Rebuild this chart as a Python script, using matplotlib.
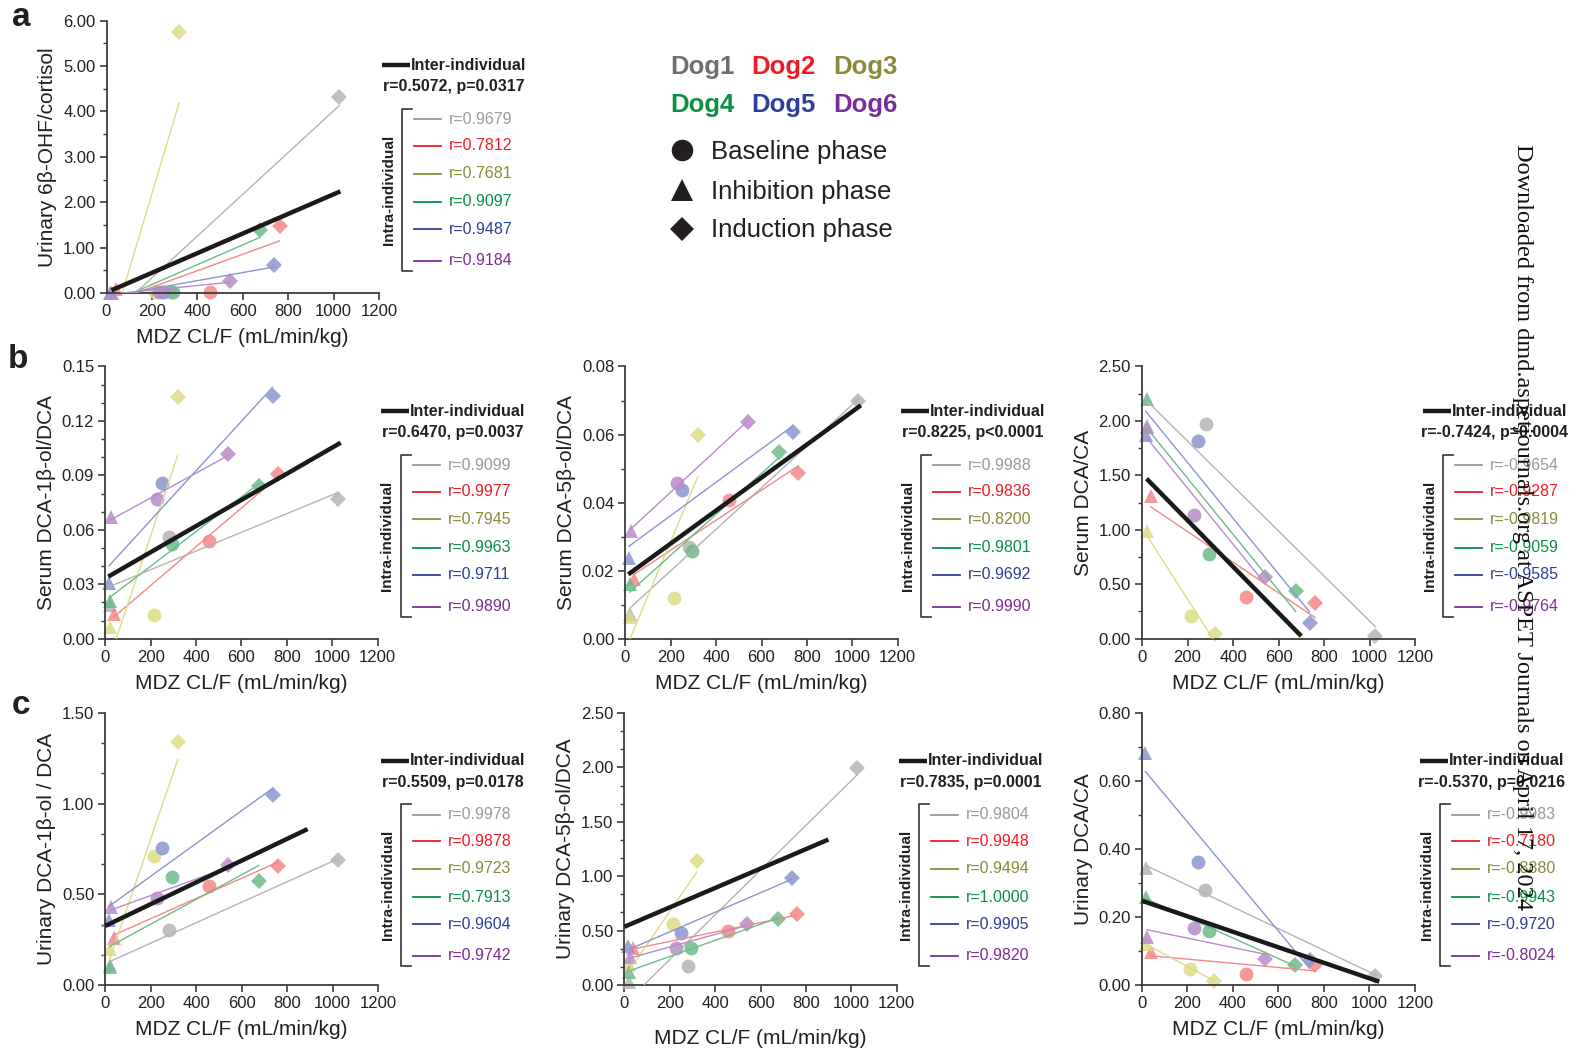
import numpy as np
import matplotlib.pyplot as plt
from matplotlib.lines import Line2D
from matplotlib.ticker import MultipleLocator, FormatStrFormatter

plt.rcParams['font.family'] = ['Liberation Sans', 'DejaVu Sans']

W, H = 1591, 1057

dogs = ['Dog1', 'Dog2', 'Dog3', 'Dog4', 'Dog5', 'Dog6']
dog_colors = ['#6d6e71', '#ed1c24', '#8b8a3a', '#0a8f45', '#2e3f98', '#7b2d96']
legend_colors = ['#9a9a9a', '#ee1c24', '#8b8a3a', '#0a8f45', '#2e3f98', '#7b2d96']
point_colors = ['#b4b4b4', '#f4878a', '#dcdc86', '#6dbb8b', '#8b95cf', '#b98cc8']

# MDZ CL/F (mL/min/kg) per dog
mdz_baseline = [280, 457, 214, 294, 248, 229]
mdz_inhibition = [20, 40, 20, 20, 16, 23]
mdz_induction = [1026, 762, 319, 675, 737, 542]

# a: urinary 6b-OHF/cortisol
a_baseline = [0.02, 0.02, 0.02, 0.02, 0.02, 0.02]
a_inhibition = [0.01, 0.08, 0.01, 0.01, 0.01, 0.01]
a_induction = [4.31, 1.48, 5.74, 1.38, 0.61, 0.26]

# b: serum DCA-1b-ol/DCA
b1_baseline = [0.056, 0.054, 0.013, 0.052, 0.086, 0.077]
b1_inhibition = [0.0185, 0.0134, 0.0066, 0.021, 0.0305, 0.067]
b1_induction = [0.077, 0.091, 0.133, 0.084, 0.134, 0.102]

# b: serum DCA-5b-ol/DCA
b2_baseline = [0.027, 0.0408, 0.0119, 0.0259, 0.0438, 0.0458]
b2_inhibition = [0.0074, 0.0175, 0.0065, 0.0162, 0.0236, 0.0316]
b2_induction = [0.0698, 0.0488, 0.0598, 0.0549, 0.0608, 0.0638]

# b: serum DCA/CA
b3_baseline = [1.97, 0.385, 0.21, 0.78, 1.82, 1.14]
b3_inhibition = [1.95, 1.31, 0.99, 2.20, 1.87, 1.94]
b3_induction = [0.027, 0.33, 0.046, 0.44, 0.14, 0.57]

# c: urinary DCA-1b-ol/DCA
c1_baseline = [0.302, 0.547, 0.709, 0.598, 0.753, 0.48]
c1_inhibition = [0.11, 0.261, 0.197, 0.098, 0.359, 0.429]
c1_induction = [0.69, 0.657, 1.34, 0.576, 1.05, 0.66]

# c: urinary DCA-5b-ol/DCA
c2_baseline = [0.174, 0.499, 0.56, 0.343, 0.48, 0.343]
c2_inhibition = [0.03, 0.337, 0.184, 0.122, 0.358, 0.26]
c2_induction = [1.99, 0.651, 1.14, 0.609, 0.988, 0.557]

# c: urinary DCA/CA
c3_baseline = [0.279, 0.032, 0.048, 0.159, 0.361, 0.168]
c3_inhibition = [0.343, 0.098, 0.12, 0.26, 0.683, 0.142]
c3_induction = [0.027, 0.058, 0.013, 0.06, 0.075, 0.077]

# inter-individual fitted lines (x0, y0, x1, y1)
inter_lines = [(22, 0.06, 1030, 2.24), (13, 0.0342, 1037, 0.108),
               (13, 0.0189, 1038, 0.0686), (20, 1.47, 700, 0.024),
               (0, 0.326, 890, 0.86), (0, 0.535, 899, 1.337),
               (0, 0.248, 1043, 0.0098)]

inter_r = ['r=0.5072, p=0.0317', 'r=0.6470, p=0.0037', 'r=0.8225, p<0.0001',
           'r=-0.7424, p=0.0004', 'r=0.5509, p=0.0178', 'r=0.7835, p=0.0001',
           'r=-0.5370, p=0.0216']
intra_r = [
    ['0.9679', '0.7812', '0.7681', '0.9097', '0.9487', '0.9184'],
    ['0.9099', '0.9977', '0.7945', '0.9963', '0.9711', '0.9890'],
    ['0.9988', '0.9836', '0.8200', '0.9801', '0.9692', '0.9990'],
    ['-0.9654', '-0.9287', '-0.9819', '-0.9059', '-0.9585', '-0.9764'],
    ['0.9978', '0.9878', '0.9723', '0.7913', '0.9604', '0.9742'],
    ['0.9804', '0.9948', '0.9494', '1.0000', '0.9905', '0.9820'],
    ['-0.9983', '-0.7180', '-0.8880', '-0.9943', '-0.9720', '-0.8024'],
]

ylabels = ['Urinary 6β-OHF/cortisol', 'Serum DCA-1β-ol/DCA', 'Serum DCA-5β-ol/DCA',
           'Serum DCA/CA', 'Urinary DCA-1β-ol / DCA', 'Urinary DCA-5β-ol/DCA',
           'Urinary DCA/CA']
ytops = [6.0, 0.15, 0.08, 2.5, 1.5, 2.5, 0.8]
ysteps = [1.0, 0.03, 0.02, 0.5, 0.5, 0.5, 0.2]
yminor = [0.5, 0.01, 0.01, 0.25, 0.5 / 3, 0.5 / 3, 0.1]

panel_data = [(a_baseline, a_inhibition, a_induction),
              (b1_baseline, b1_inhibition, b1_induction),
              (b2_baseline, b2_inhibition, b2_induction),
              (b3_baseline, b3_inhibition, b3_induction),
              (c1_baseline, c1_inhibition, c1_induction),
              (c2_baseline, c2_inhibition, c2_induction),
              (c3_baseline, c3_inhibition, c3_induction)]

# axes boxes in pixels: left, top, right, bottom
boxes = [(106.5, 20.7, 379, 293), (105.3, 366.5, 377.7, 638.7),
         (625.3, 366.5, 897.7, 638.7), (1142, 366.5, 1415, 638.7),
         (105.3, 713, 378, 985), (624.3, 713, 896.7, 985),
         (1141.7, 713, 1415, 985)]
bracket_x = [401.7, 400.5, 920.7, 1442.7, 401, 919, 1440]
legend_dy = [0, 0, 0, 0, 3, 3, 3]
xlabel_off = [-0.13, -0.13, -0.13, -0.13, -0.13, -0.16, -0.13]

fig = plt.figure(figsize=(W / 100, H / 100), dpi=100)


def fx(x):
    return x / W


def fy(y):
    return 1 - y / H


def fig_line(xs, ys, **kw):
    fig.add_artist(Line2D([fx(v) for v in xs], [fy(v) for v in ys],
                          transform=fig.transFigure, **kw))


for i, (x0, y0, x1, y1) in enumerate(boxes):
    ax = fig.add_axes([fx(x0), fy(y1), (x1 - x0) / W, (y1 - y0) / H])
    base, inh, ind = panel_data[i]
    for d in range(6):
        xs = np.array([mdz_inhibition[d], mdz_baseline[d], mdz_induction[d]])
        ys = np.array([inh[d], base[d], ind[d]])
        k, b = np.polyfit(xs, ys, 1)
        xx = np.array([xs.min(), xs.max()])
        ax.plot(xx, k * xx + b, color=point_colors[d], lw=1.0, zorder=3)
        ax.plot(mdz_baseline[d], base[d], 'o', ms=10, color=point_colors[d],
                alpha=0.85, mew=0, clip_on=False, zorder=2)
        ax.plot(mdz_inhibition[d], inh[d], '^', ms=10.5, color=point_colors[d],
                alpha=0.85, mew=0, clip_on=False, zorder=2)
        ax.plot(mdz_induction[d], ind[d], 'D', ms=8, color=point_colors[d],
                alpha=0.85, mew=0, clip_on=False, zorder=2)
    lx0, ly0, lx1, ly1 = inter_lines[i]
    ax.plot([lx0, lx1], [ly0, ly1], color='#1a1a1a', lw=3.2, zorder=4,
            solid_capstyle='butt')

    ax.set_xlim(0, 1200)
    ax.set_ylim(0, ytops[i])
    ax.xaxis.set_major_locator(MultipleLocator(200))
    ax.yaxis.set_major_locator(MultipleLocator(ysteps[i]))
    ax.yaxis.set_minor_locator(MultipleLocator(yminor[i]))
    ax.yaxis.set_major_formatter(FormatStrFormatter('%.2f'))
    for s in ['top', 'right']:
        ax.spines[s].set_visible(False)
    for s in ['left', 'bottom']:
        ax.spines[s].set_color('#3c3c3c')
        ax.spines[s].set_linewidth(1.3)
    ax.tick_params(which='major', length=5, width=1.2, color='#3c3c3c',
                   labelsize=12, labelcolor='#231f20', pad=3)
    ax.tick_params(which='minor', length=3, width=1.0, color='#3c3c3c')
    ax.set_ylabel(ylabels[i], fontsize=15, color='#231f20')
    ax.set_xlabel('MDZ CL/F (mL/min/kg)', fontsize=15, color='#231f20')
    ax.yaxis.set_label_coords(-0.18, 0.5)
    ax.xaxis.set_label_coords(0.5, xlabel_off[i])

    # legend block beside each panel
    bx = bracket_x[i]
    T = y0 + legend_dy[i]
    cx = bx + 52
    fig_line([cx - 72, cx - 44], [T + 44.5, T + 44.5], color='#1a1a1a', lw=3.2,
             solid_capstyle='butt')
    fig.text(fx(cx - 43), fy(T + 44.5), 'Inter-individual', fontsize=11.5,
             fontweight='bold', color='#231f20', ha='left', va='center')
    fig.text(fx(cx), fy(T + 66), inter_r[i], fontsize=11.5, fontweight='bold',
             color='#231f20', ha='center', va='center')
    fig_line([bx + 10, bx, bx, bx + 10], [T + 88, T + 88, T + 250, T + 250],
             color='#333333', lw=1.2)
    fig.text(fx(bx - 13), fy(T + 169), 'Intra-individual', fontsize=11,
             fontweight='bold', color='#231f20', rotation=90, ha='center',
             va='center')
    offs = [98.6, 125.2, 152.8, 181, 208.3, 240]
    for d in range(6):
        yy = T + offs[d]
        fig_line([bx + 12, bx + 39], [yy, yy], color=legend_colors[d], lw=1.3)
        fig.text(fx(bx + 47), fy(yy), 'r=' + intra_r[i][d], fontsize=11.5,
                 color=legend_colors[d], ha='left', va='center')

# panel letters
for letter, (px, py) in zip(['a', 'b', 'c'], [(21, 18), (18, 360), (21, 706)]):
    fig.text(fx(px), fy(py), letter, fontsize=24, fontweight='bold',
             color='#231f20', ha='center', va='center')

# dog colour key
dog_x = [670, 751.7, 833.3]
for d in range(6):
    fig.text(fx(dog_x[d % 3]), fy(66.7 if d < 3 else 105), dogs[d],
             fontsize=18.5, fontweight='bold', color=dog_colors[d],
             ha='left', va='center')

# phase marker key
phases = [('o', 'Baseline phase', 150, 15.5), ('^', 'Inhibition phase', 190, 15.5),
          ('D', 'Induction phase', 229, 12.5)]
for mk, label, yy, ms in phases:
    fig.add_artist(Line2D([fx(682.3)], [fy(yy)], marker=mk, ms=ms, color='#231f20',
                          mew=0, transform=fig.transFigure))
    fig.text(fx(711), fy(yy + 1.5), label, fontsize=18.5, color='#231f20',
             ha='left', va='center')

fig.text(fx(1522), fy(144), 'Downloaded from dmd.aspetjournals.org at ASPET Journals on April 17, 2024',
         rotation=-90, ha='center', va='top', fontsize=17.5,
         family=['Liberation Serif', 'DejaVu Serif'], color='#111111')

fig.savefig('out.png', dpi=100)
